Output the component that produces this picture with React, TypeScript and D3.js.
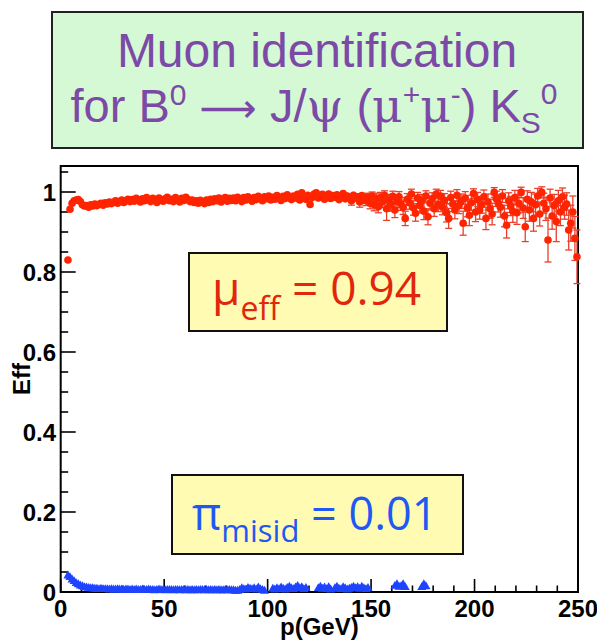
import React from "react";
import * as d3 from "d3";

// bin centres of the 1 GeV momentum bins that carry entries
const pCenters = d3.range(3.5, 250, 1);

// muon identification efficiency (red circles), one value per bin
const muEff = [
  0.830, 0.957, 0.972, 0.978, 0.980, 0.981, 0.976, 0.968, 0.965, 0.966,
  0.962, 0.968, 0.965, 0.970, 0.966, 0.969, 0.972, 0.967, 0.973, 0.970,
  0.975, 0.971, 0.974, 0.978, 0.972, 0.976, 0.980, 0.974, 0.978, 0.982,
  0.976, 0.981, 0.977, 0.984, 0.979, 0.975, 0.983, 0.978, 0.986, 0.980,
  0.976, 0.984, 0.979, 0.974, 0.985, 0.980, 0.977, 0.983, 0.987, 0.978,
  0.982, 0.976, 0.986, 0.980, 0.975, 0.984, 0.979, 0.987, 0.981, 0.976,
  0.980, 0.974, 0.978, 0.972, 0.979, 0.975, 0.971, 0.980, 0.974, 0.982,
  0.976, 0.983, 0.978, 0.985, 0.975, 0.981, 0.986, 0.977, 0.984, 0.979,
  0.985, 0.978, 0.987, 0.981, 0.976, 0.986, 0.980, 0.988, 0.983, 0.977,
  0.986, 0.981, 0.989, 0.984, 0.978, 0.988, 0.983, 0.990, 0.980, 0.987,
  0.982, 0.991, 0.985, 0.979, 0.989, 0.984, 0.993, 0.987, 0.981, 0.990,
  0.985, 0.994, 0.980, 0.998, 0.988, 0.982, 0.992, 0.969, 0.986, 0.995,
  0.998, 0.985, 0.990, 0.994, 0.982, 0.988, 0.995, 0.984, 0.991, 0.987,
  0.993, 0.981, 0.989, 0.996, 0.983, 0.990, 0.986, 0.978, 0.992, 0.985,
  0.988, 0.975, 0.991, 0.983, 0.979, 0.987, 0.972, 0.990, 0.968, 0.984,
  0.963, 0.986, 0.975, 0.992, 0.958, 0.980, 0.968, 0.989, 0.955, 0.976,
  0.988, 0.970, 0.962, 0.934, 0.982, 0.973, 0.995, 0.960, 0.947, 0.985,
  0.966, 0.978, 0.952, 0.990, 0.938, 0.972, 0.983, 0.958, 0.995, 0.969,
  0.990, 0.962, 0.979, 0.948, 0.934, 0.986, 0.970, 0.955, 0.992, 0.966,
  0.977, 0.922, 0.985, 0.960, 0.942, 0.973, 0.996, 0.950, 0.981, 0.955,
  0.968, 0.988, 0.934, 0.975, 0.958, 0.945, 0.999, 0.983, 0.972, 0.962,
  0.990, 0.940, 0.917, 0.978, 0.965, 0.952, 0.986, 0.948, 0.971, 0.999,
  0.960, 0.913, 0.982, 0.955, 0.975, 0.934, 0.968, 0.990, 0.945, 0.999,
  0.972, 0.958, 0.880, 0.985, 0.940, 0.966, 0.926, 0.978, 0.950, 0.988,
  0.962, 0.970, 0.905, 0.922, 0.950, 0.884, 0.838,
];

// statistical error of the muon efficiency
const muErr = [
  0.008, 0.006, 0.004, 0.003, 0.003, 0.003, 0.003, 0.003, 0.003, 0.003,
  0.003, 0.003, 0.003, 0.003, 0.003, 0.003, 0.003, 0.003, 0.003, 0.003,
  0.003, 0.003, 0.003, 0.003, 0.003, 0.003, 0.003, 0.003, 0.003, 0.003,
  0.003, 0.003, 0.003, 0.003, 0.003, 0.003, 0.003, 0.003, 0.003, 0.003,
  0.003, 0.003, 0.003, 0.004, 0.003, 0.004, 0.003, 0.004, 0.004, 0.004,
  0.004, 0.004, 0.004, 0.004, 0.004, 0.004, 0.004, 0.004, 0.004, 0.004,
  0.004, 0.004, 0.005, 0.005, 0.005, 0.005, 0.005, 0.005, 0.005, 0.005,
  0.005, 0.005, 0.005, 0.005, 0.005, 0.005, 0.005, 0.006, 0.005, 0.006,
  0.006, 0.005, 0.006, 0.006, 0.005, 0.006, 0.006, 0.006, 0.006, 0.005,
  0.006, 0.006, 0.006, 0.006, 0.007, 0.006, 0.006, 0.007, 0.007, 0.006,
  0.007, 0.007, 0.006, 0.007, 0.007, 0.008, 0.007, 0.007, 0.008, 0.007,
  0.008, 0.007, 0.008, 0.005, 0.008, 0.009, 0.008, 0.009, 0.008, 0.008,
  0.006, 0.009, 0.009, 0.008, 0.009, 0.009, 0.008, 0.009, 0.009, 0.009,
  0.009, 0.009, 0.009, 0.008, 0.009, 0.009, 0.009, 0.011, 0.009, 0.009,
  0.009, 0.013, 0.009, 0.012, 0.013, 0.010, 0.014, 0.010, 0.015, 0.013,
  0.015, 0.013, 0.014, 0.011, 0.029, 0.014, 0.016, 0.013, 0.019, 0.015,
  0.013, 0.016, 0.018, 0.018, 0.014, 0.016, 0.012, 0.018, 0.020, 0.014,
  0.018, 0.016, 0.021, 0.013, 0.020, 0.017, 0.015, 0.019, 0.012, 0.018,
  0.014, 0.019, 0.017, 0.023, 0.025, 0.016, 0.019, 0.022, 0.014, 0.020,
  0.018, 0.030, 0.016, 0.022, 0.026, 0.019, 0.012, 0.024, 0.018, 0.023,
  0.021, 0.017, 0.028, 0.020, 0.024, 0.027, 0.012, 0.019, 0.022, 0.025,
  0.016, 0.027, 0.032, 0.020, 0.024, 0.028, 0.018, 0.029, 0.023, 0.013,
  0.026, 0.037, 0.021, 0.028, 0.024, 0.032, 0.027, 0.019, 0.030, 0.014,
  0.025, 0.029, 0.055, 0.022, 0.033, 0.028, 0.050, 0.026, 0.034, 0.022,
  0.030, 0.028, 0.050, 0.045, 0.040, 0.055, 0.067,
];

// pion mis-identification rate (blue triangles); null = bin without entries
const piMisid = [
  0.038, 0.034, 0.028, 0.024, 0.019, 0.016, 0.013, 0.011, 0.009, 0.008,
  0.007, 0.006, 0.006, 0.005, 0.005, 0.004, 0.005, 0.004, 0.004, 0.004,
  0.003, 0.004, 0.003, 0.003, 0.004, 0.003, 0.003, 0.002, 0.003, 0.003,
  0.002, 0.003, 0.002, 0.003, 0.002, 0.002, 0.003, 0.002, 0.002, 0.003,
  0.002, 0.002, 0.001, 0.002, 0.003, 0.002, 0.002, 0.001, 0.002, 0.002,
  0.002, 0.001, 0.002, 0.002, 0.001, 0.002, 0.002, 0.001, 0.002, 0.001,
  0.002, 0.001, 0.002, 0.001, 0.002, 0.002, 0.001, 0.002, 0.001, 0.002,
  0.001, 0.002, 0.001, 0.002, 0.001, 0.001, 0.002, 0.001, 0.002, 0.001,
  0.001, 0.000, 0.000, 0.002, 0.006, 0.004, 0.003, 0.007, 0.005, 0.004,
  0.006, 0.003, 0.008, 0.004, 0.002, 0.000, null, null, null, 0.005,
  0.003, 0.006, 0.004, 0.008, 0.005, 0.003, 0.007, 0.010, 0.006, 0.004,
  0.008, 0.012, 0.006, 0.009, 0.004, 0.007, null, null, null, null,
  null, 0.006, 0.010, 0.005, 0.008, 0.004, 0.009, 0.003, null, 0.006,
  0.010, 0.005, 0.004, 0.009, 0.006, 0.003, 0.005, 0.007, 0.010, 0.006,
  0.009, 0.005, 0.010, 0.006, 0.004, 0.007, null, null, null, null,
  null, null, null, null, null, null, null, null, 0.012, 0.016,
  0.010, 0.011, 0.016, 0.009, null, null, null, null, null, null,
  null, 0.009, 0.016, 0.011, null, null, null, null, null, null,
  null, null, null, null, null, null, null, null, null, null,
  null, null, null, null, null, null, null, null, null, null,
  null, null, null, null, null, null, null, null, null, null,
  null, null, null, null, null, null, null, null, null, null,
  null, null, null, null, null, null, null, null, null, null,
  null, null, null, null, null, null, null, null, null, null,
  null, null, null, null, null, null, null,
];

const xMajorTicks = [0, 50, 100, 150, 200, 250];
const xTickLabels = ["0", "50", "100", "150", "200", "250"];
const yMajorTicks = [0, 0.2, 0.4, 0.6, 0.8, 1];
const yTickLabels = ["0", "0.2", "0.4", "0.6", "0.8", "1"];
const xMinorStep = 10;
const yMinorStep = 0.05;

const titleLine1 = "Muon identification";
const muLabel = { sym: "\u03bc", sub: "eff", value: "= 0.94" };
const piLabel = { sym: "\u03c0", sub: "misid", value: "= 0.01" };

const RED = "#ff2400";
const RED_ERR = "#e8402c";
const BLUE = "#1e44ff";
const PURPLE = "#7c4aa6";

export default function App() {
  const W = 597;
  const H = 640;
  const x = d3.scaleLinear().domain([0, 250]).range([60.7, 578]);
  const y = d3.scaleLinear().domain([0, 1.065]).range([592, 166]);
  const [x0, x1] = x.range();
  const [y0, y1] = y.range();

  const xMinor = d3.range(0, 250 + 1e-6, xMinorStep);
  const yMinor = d3.range(0, 1.065, yMinorStep);
  const tri = d3.symbol().type(d3.symbolTriangle).size(36)() as string;
  const R = 3.8;

  const sans = "'Liberation Sans', Arial, Helvetica, sans-serif";
  const serif = "'DejaVu Serif', 'Liberation Serif', serif";
  const boxFont = "'Open Sans', 'DejaVu Sans', sans-serif";

  return (
    <svg
      width={W}
      height={H}
      viewBox={`0 0 ${W} ${H}`}
      style={{ position: "absolute", left: 0, top: 0, background: "#fff" }}
    >
      {/* title box */}
      <rect x={52} y={12} width={531} height={136} fill="#d5f9d4" stroke="#222" strokeWidth={2} />
      <text x={317} y={67} textAnchor="middle" fontFamily={sans} fontSize={48} fill={PURPLE}>
        {titleLine1}
      </text>
      <text x={314} y={122} textAnchor="middle" fontFamily={sans} fontSize={47} fill={PURPLE}>
        <tspan>for B</tspan>
        <tspan fontSize={30} dy={-17}>0</tspan>
        <tspan dy={17}> </tspan>
        <tspan fontFamily="'DejaVu Sans', sans-serif" fontSize={40}>{"\u27f6"}</tspan>
        <tspan> J/</tspan>
        <tspan fontFamily={serif}>{"\u03c8"}</tspan>
        <tspan> (</tspan>
        <tspan fontFamily={serif}>{"\u03bc"}</tspan>
        <tspan fontSize={30} dy={-17}>+</tspan>
        <tspan fontFamily={serif} dy={17}>{"\u03bc"}</tspan>
        <tspan fontSize={30} dy={-17}>-</tspan>
        <tspan dy={17}>) K</tspan>
        <tspan fontSize={30} dy={11}>S</tspan>
        <tspan fontSize={30} dy={-29}>0</tspan>
      </text>

      {/* frame */}
      <rect x={x0} y={y1} width={x1 - x0} height={y0 - y1} fill="none" stroke="#000" strokeWidth={2} />

      {/* x ticks */}
      {xMinor.map((v) => {
        const major = xMajorTicks.some((m) => Math.abs(m - v) < 1e-6);
        return (
          <line key={"xt" + v} x1={x(v)} x2={x(v)} y1={y0} y2={y0 - (major ? 13 : 6.5)} stroke="#000" strokeWidth={1.6} />
        );
      })}
      {/* y ticks */}
      {yMinor.map((v) => {
        const major = yMajorTicks.some((m) => Math.abs(m - v) < 1e-6);
        return (
          <line key={"yt" + v} x1={x0} x2={x0 + (major ? 15 : 7.5)} y1={y(v)} y2={y(v)} stroke="#000" strokeWidth={1.6} />
        );
      })}

      {/* tick labels */}
      {xMajorTicks.map((v, i) => (
        <text key={"xl" + v} x={x(v)} y={617} textAnchor="middle" fontFamily={sans} fontWeight="bold" fontSize={24} fill="#000">
          {xTickLabels[i]}
        </text>
      ))}
      {yMajorTicks.map((v, i) => (
        <text key={"yl" + v} x={56} y={y(v)} dy="0.36em" textAnchor="end" fontFamily={sans} fontWeight="bold" fontSize={24} fill="#000">
          {yTickLabels[i]}
        </text>
      ))}

      {/* axis titles */}
      <text x={(x0 + x1) / 2} y={635} textAnchor="middle" fontFamily={sans} fontWeight="bold" fontSize={24} fill="#000">
        p(GeV)
      </text>
      <text
        transform={`translate(30, ${(y0 + y1) / 2}) rotate(-90)`}
        textAnchor="middle"
        fontFamily={sans}
        fontWeight="bold"
        fontSize={24}
        fill="#000"
      >
        Eff
      </text>

      {/* muon efficiency error bars */}
      {pCenters.map((p, i) => {
        const v = muEff[i];
        const e = muErr[i];
        const yt = y(v + e);
        const yb = y(v - e);
        const cx = x(p);
        const long = (yb - yt) / 2 > R;
        return (
          <g key={"e" + i} stroke={RED_ERR} strokeWidth={1.3}>
            <line x1={cx} x2={cx} y1={yt} y2={yb} />
            {long && <line x1={cx - 3.5} x2={cx + 3.5} y1={yt} y2={yt} />}
            {long && <line x1={cx - 3.5} x2={cx + 3.5} y1={yb} y2={yb} />}
          </g>
        );
      })}
      {/* muon efficiency markers */}
      {pCenters.map((p, i) => (
        <circle key={"m" + i} cx={x(p)} cy={y(muEff[i])} r={R} fill={RED} />
      ))}

      {/* pion mis-id markers */}
      {pCenters.map((p, i) =>
        piMisid[i] === null ? null : (
          <path key={"t" + i} d={tri} transform={`translate(${x(p)}, ${y(piMisid[i] as number) - 1})`} fill={BLUE} />
        )
      )}

      {/* annotation boxes */}
      <rect x={189} y={253} width={258} height={78} fill="#fffbb2" stroke="#111" strokeWidth={2} />
      <text x={212} y={305} fontFamily={boxFont} fontSize={46} fill="#e0260c">
        <tspan>{muLabel.sym}</tspan>
        <tspan fontSize={32} dy={15}>{muLabel.sub}</tspan>
        <tspan dy={-15}>{" " + muLabel.value}</tspan>
      </text>

      <rect x={172} y={475} width={291} height={79} fill="#fffbb2" stroke="#111" strokeWidth={2} />
      <text x={192} y={530} fontFamily={boxFont} fontSize={45} fill="#1f58f2">
        <tspan>{piLabel.sym}</tspan>
        <tspan fontSize={31} dy={12}>{piLabel.sub}</tspan>
        <tspan dy={-12}>{" " + piLabel.value}</tspan>
      </text>
    </svg>
  );
}
